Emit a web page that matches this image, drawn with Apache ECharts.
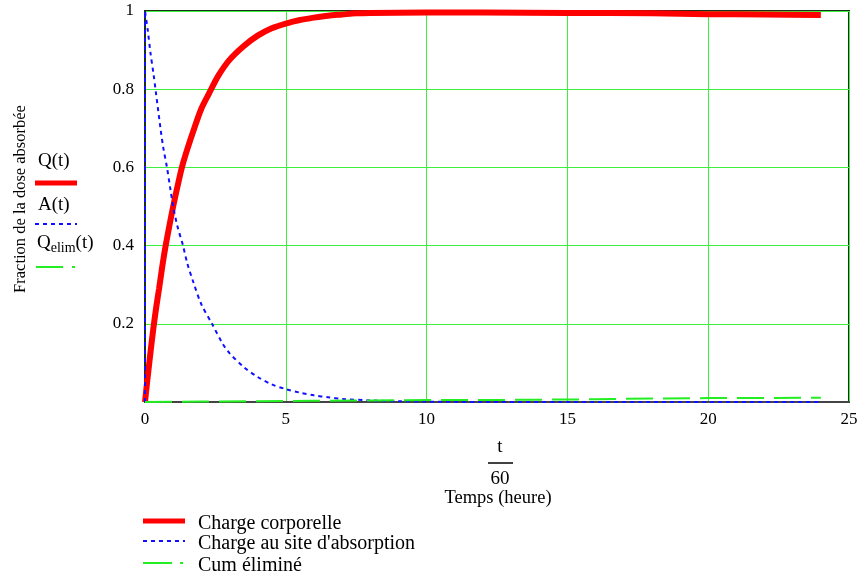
<!DOCTYPE html>
<html>
<head>
<meta charset="utf-8">
<script src="https://cdn.jsdelivr.net/npm/echarts@6/dist/echarts.min.js"></script>
<style>
html,body{margin:0;padding:0;background:#fff;}
#chart{width:862px;height:577px;}
</style>
</head>
<body>
<div id="chart"></div>
<script>
// ---- data ----
var tQ = [0, 0.05, 0.1, 0.2, 0.3, 0.4, 0.5, 0.6, 0.71, 0.85, 1.0, 1.15, 1.31, 1.5, 1.75, 2.0, 2.28, 2.6, 3.0, 3.5, 4.0, 4.5, 5.0, 5.5, 6.0, 6.5, 7.0, 7.5, 8, 10, 12, 15, 18, 20, 22, 24];
var Q  = [0, 0.034, 0.067, 0.13, 0.19, 0.243, 0.29, 0.34, 0.39, 0.445, 0.5, 0.55, 0.6, 0.646, 0.7, 0.75, 0.79, 0.834, 0.875, 0.91, 0.937, 0.956, 0.968, 0.977, 0.983, 0.988, 0.991, 0.994, 0.995, 0.996, 0.996, 0.995, 0.994, 0.992, 0.991, 0.99];
var tA = [0, 0, 0.1, 0.2, 0.3, 0.39, 0.55, 0.65, 0.78, 0.9, 1.0, 1.15, 1.35, 1.5, 1.7, 2.0, 2.38, 2.75, 3.0, 3.5, 4.0, 4.5, 5.0, 5.5, 6.0, 6.5, 7.0, 8.0, 9.0, 10, 12, 15, 18, 20, 24];
var A  = [0, 1, 0.95, 0.89, 0.84, 0.79, 0.7, 0.65, 0.6, 0.545, 0.5, 0.45, 0.4, 0.355, 0.31, 0.25, 0.2, 0.15, 0.125, 0.09, 0.064, 0.045, 0.033, 0.024, 0.017, 0.012, 0.008, 0.004, 0.002, 0.001, 0, 0, 0, 0, 0];
var tE = [0, 2, 4, 6, 8, 10, 12, 14, 16, 18, 20, 22, 24];
var E  = [0, 0.001, 0.002, 0.003, 0.004, 0.005, 0.005, 0.006, 0.007, 0.009, 0.01, 0.01, 0.011];
var seriesNames = ['Charge corporelle', "Charge au site d'absorption", 'Cum éliminé'];
var xTicks = [0, 5, 10, 15, 20, 25];
var yTickLabels = ['', '0.2', '0.4', '0.6', '0.8', '1'];

function pairs(xs, ys){ return xs.map(function(x,i){ return [x, ys[i]]; }); }

var FONT = '"Liberation Serif","Times New Roman",serif';
var RED = '#ff0000', BLUE = '#1010ff', GREEN = '#22ee22';
var chart = echarts.init(document.getElementById('chart'), null, {renderer:'canvas'});

function txt(x, y, s, size, align){
  return {type: 'text', x: x, y: y, style: {text: s, font: size + 'px ' + FONT, fill: '#000', align: align || 'left', verticalAlign: 'middle'}};
}
function seg(x1, y1, x2, y2, color, w, dash){
  var st = {stroke: color, lineWidth: w};
  if (dash) st.lineDash = dash;
  return {type: 'line', shape: {x1: x1, y1: y1, x2: x2, y2: y2}, style: st};
}

var option = {
  backgroundColor: '#ffffff',
  animation: false,
  textStyle: {fontFamily: FONT, color: '#000'},
  grid: {left: 145, top: 11, width: 704, height: 391, show: true, borderColor: '#1b2f1b', borderWidth: 2, backgroundColor: 'transparent'},
  xAxis: {
    type: 'value', min: xTicks[0], max: xTicks[xTicks.length-1], interval: 5,
    axisLine: {show: true, onZero: false, lineStyle: {color: '#444', width: 2}},
    axisTick: {show: false},
    axisLabel: {color: '#000', fontFamily: FONT, fontSize: 17, margin: 9},
    splitLine: {show: true, lineStyle: {color: '#3ef03e', width: 1}}
  },
  yAxis: {
    type: 'value', min: 0, max: 1, interval: 0.2,
    axisLine: {show: true, lineStyle: {color: '#1b2f1b', width: 2}},
    axisTick: {show: false},
    axisLabel: {color: '#000', fontFamily: FONT, fontSize: 17, margin: 11,
      formatter: function(v){ var i = Math.round(v/0.2); return yTickLabels[i] !== undefined ? yTickLabels[i] : ''; }},
    splitLine: {show: true, lineStyle: {color: '#3ef03e', width: 1}}
  },
  series: [
    {name: seriesNames[0], type: 'line', data: pairs(tQ, Q), showSymbol: false, symbol: 'none', smooth: 0.3, z: 2,
     lineStyle: {color: RED, width: 6}, itemStyle: {color: RED}},
    {name: seriesNames[1], type: 'line', data: pairs(tA, A), showSymbol: false, symbol: 'none', smooth: 0.3, z: 3,
     lineStyle: {color: BLUE, width: 2, type: [4, 4]}, itemStyle: {color: BLUE}},
    {name: seriesNames[2], type: 'line', data: pairs(tE, E), showSymbol: false, symbol: 'none', z: 4,
     lineStyle: {color: GREEN, width: 2, type: [27, 10]}, itemStyle: {color: GREEN}}
  ],
  graphic: [
    // y axis title
    {type: 'text', x: 21, y: 199, rotation: Math.PI / 2,
     style: {text: 'Fraction de la dose absorbée', font: '16.5px ' + FONT, fill: '#000', align: 'center', verticalAlign: 'middle'}},
    // left legend
    txt(38, 161, 'Q(t)', 19),
    seg(35, 183, 77, 183, RED, 5),
    txt(38, 205, 'A(t)', 19),
    seg(35, 224, 77, 224, BLUE, 2, [4, 4]),
    {type: 'text', left: 37, top: 234, style: {
      text: '{a|Q}{b|elim}{a|(t)}',
      rich: {a: {font: '19px ' + FONT, fill: '#000'}, b: {font: '14px ' + FONT, fill: '#000', padding: [9, 0, 0, 0]}}}},
    seg(36, 267, 63, 267, GREEN, 2),
    seg(72, 267, 75, 267, GREEN, 2),
    // x axis title
    txt(500, 447, 't', 19, 'center'),
    seg(488, 463, 513, 463, '#000', 1.5),
    txt(500, 479, '60', 19, 'center'),
    txt(498, 498, 'Temps (heure)', 18.5, 'center'),
    // bottom legend
    seg(143, 521, 185, 521, RED, 5),
    txt(198, 524, seriesNames[0], 20),
    seg(143, 541, 185, 541, BLUE, 2, [4, 4]),
    txt(198, 544, seriesNames[1], 20),
    seg(143, 563, 172, 563, GREEN, 2),
    seg(180, 563, 183, 563, GREEN, 2),
    txt(198, 566, seriesNames[2], 20)
  ]
};
chart.setOption(option);
</script>
</body>
</html>
